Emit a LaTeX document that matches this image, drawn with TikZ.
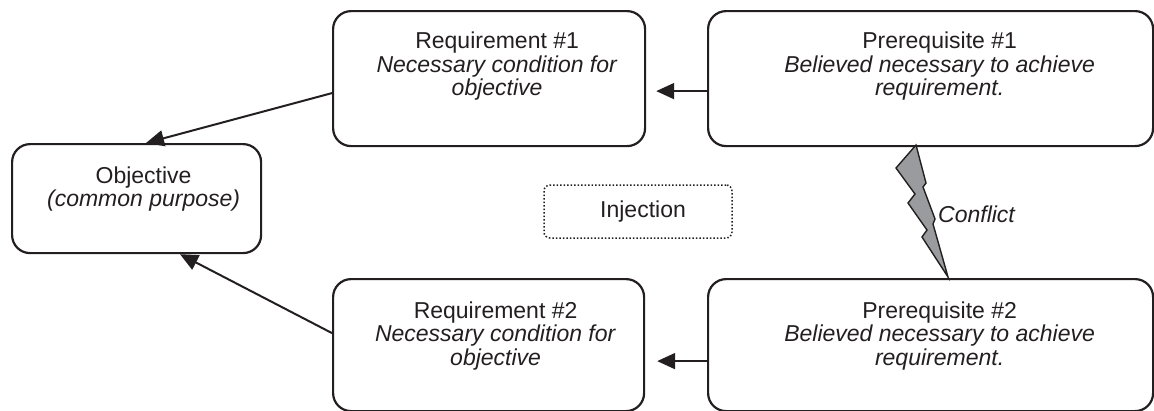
\documentclass[tikz,border=0pt]{standalone}
\usepackage{fontspec}
\setmainfont{Liberation Sans}
\usetikzlibrary{arrows.meta,calc}
\definecolor{ink}{HTML}{231F20}
\definecolor{boltgray}{HTML}{9A9B9F}
\begin{document}
\begin{tikzpicture}[x=1pt,y=-1pt,
  box/.style={draw=ink,line width=2.2pt,rounded corners=18pt,inner sep=0pt,anchor=north west},
  txt/.style={align=center,font=\fontsize{23pt}{23.5pt}\selectfont,text=ink,inner sep=0pt,anchor=base},
  injbox/.style={draw=ink,line width=1.5pt,dotted,rounded corners=6pt,inner sep=0pt,
    minimum width=188pt,minimum height=53pt,font=\fontsize{23pt}{23.5pt}\selectfont,text=ink},
  conn/.style={draw=ink,line width=2pt,-{Triangle[length=18pt,width=16pt]}},
  lbl/.style={font=\fontsize{23pt}{23.5pt}\selectfont\itshape,text=ink,inner sep=0pt,anchor=base west}
]
\useasboundingbox (0,0) rectangle (1154,410);

% boxes
\node[box,minimum width=249pt,minimum height=109pt] (obj) at (11,143) {};
\node[box,minimum width=312pt,minimum height=135pt] (r1) at (332,10) {};
\node[box,minimum width=445pt,minimum height=135pt] (p1) at (707,10) {};
\node[box,minimum width=311pt,minimum height=132pt] (r2) at (332,278) {};
\node[box,minimum width=445pt,minimum height=132pt] (p2) at (707,278) {};

% texts (base anchor = baseline of the last line)
\node[txt] (objt) at ($(obj.north)+(7,63.5)$) {Objective\\\textit{(common purpose)}};
\node[txt] (r1t) at ($(r1.north)+(8,85.5)$) {Requirement \#1\\\textit{Necessary condition for}\\\textit{objective}};
\node[txt] (p1t) at ($(p1.north)+(9,85.5)$) {Prerequisite \#1\\\textit{Believed necessary to achieve}\\\textit{requirement.}};
\node[txt] (r2t) at ($(r2.north)+(7,87)$) {Requirement \#2\\\textit{Necessary condition for}\\\textit{objective}};
\node[txt] (p2t) at ($(p2.north)+(9,87)$) {Prerequisite \#2\\\textit{Believed necessary to achieve}\\\textit{requirement.}};

% injection
\node[injbox] (inj) at (638,211.5) {\hspace*{10pt}Injection};

% lightning bolt
\filldraw[fill=boltgray,draw=ink,line width=1.4pt,line join=miter]
  (916,145) -- (896,168) -- (915,194) -- (908,203) -- (927,230) -- (922,237)
  -- (948,277) -- (933,224) -- (935,219) -- (923,187) -- (926,183) -- cycle;
\node[lbl] (conf) at (938,222) {Conflict};

% connectors
\draw[conn] ([yshift=-14.5pt]r1.west) -- ([xshift=135pt]obj.north west);
\draw[conn] ([yshift=12pt]r2.west) -- ([xshift=169pt]obj.south west);
\draw[conn] ([yshift=-12.5pt]p1.west) -- ([xshift=10pt,yshift=-12.5pt]r1.east);
\draw[conn] ([yshift=-16pt]p2.west) -- ([xshift=12pt,yshift=-16pt]r2.east);
\end{tikzpicture}
\end{document}
